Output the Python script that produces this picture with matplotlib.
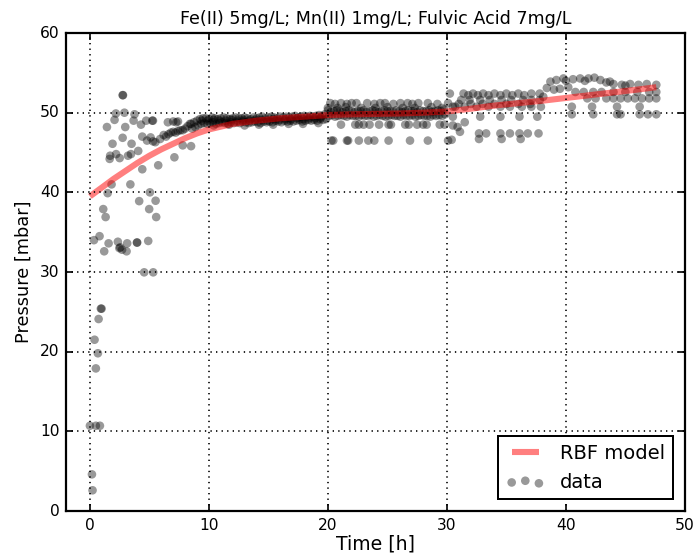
import matplotlib
matplotlib.use("Agg")
import matplotlib.pyplot as plt
import numpy as np

plt.style.use('classic')
plt.rcParams['font.family'] = ['DejaVu Sans']

title = "Fe(II) 5mg/L; Mn(II) 1mg/L; Fulvic Acid 7mg/L"
xlabel = "Time [h]"
ylabel = "Pressure [mbar]"

# ---- measured data (time [h], pressure [mbar]) ----
early = [
    [0.0, 10.7], [0.5, 10.7], [0.84, 10.7], [0.17, 4.6], [0.22, 2.6], [0.39, 21.5],
    [0.67, 19.8], [0.5, 17.9], [0.73, 24.1], [0.98, 25.4], [0.92, 25.4],
    [0.34, 34.0], [0.81, 34.5], [1.12, 37.9], [1.32, 36.9], [1.49, 39.9], [1.82, 41.0],
    [1.57, 33.6], [2.35, 33.8], [3.13, 33.6], [3.95, 33.7], [3.97, 33.7], [4.9, 33.9],
    [2.47, 33.0], [2.55, 33.1], [2.7, 32.8], [1.2, 32.6], [3.08, 32.6], [4.56, 29.96], [5.32, 29.96],
    [3.4, 41.0], [5.04, 40.0], [4.14, 38.9], [5.52, 38.95], [4.98, 37.9], [5.57, 36.9],
    [1.7, 44.6], [2.2, 44.8], [2.5, 44.3], [1.66, 44.2], [3.2, 44.6], [3.45, 44.8],
    [4.06, 45.2], [4.4, 42.9], [5.74, 43.4], [7.1, 44.4],
    [1.9, 46.1], [3.5, 46.1], [2.75, 46.85], [1.43, 48.2], [2.97, 48.2], [2.07, 49.1],
    [3.67, 49.0], [4.29, 48.5], [4.73, 49.0], [5.24, 49.0], [6.55, 48.8], [7.25, 48.8],
    [2.18, 49.9], [2.9, 50.0], [3.75, 49.8], [2.75, 52.2], [2.78, 52.2],
    [4.4, 47.0], [4.8, 46.5], [5.1, 46.9], [5.3, 46.4], [5.5, 46.3], [5.9, 46.7],
    [6.2, 47.2], [6.4, 47.0], [6.6, 47.3], [6.8, 47.5], [7.0, 47.6], [7.2, 47.5],
    [7.4, 47.7], [7.6, 47.8], [7.8, 47.8], [8.0, 48.0], [8.2, 48.3], [8.4, 48.6],
    [7.0, 48.9], [7.4, 48.9], [5.3, 49.0], [7.8, 45.9], [8.5, 45.8],
]

plateau = [
    [8.5, 48.6], [8.75, 48.8], [9.0, 49.0], [9.25, 49.2], [9.5, 49.3], [9.75, 49.3],
    [10.0, 49.2], [10.25, 49.4], [10.5, 49.3], [10.75, 49.2], [11.0, 49.3], [11.25, 49.4],
    [11.5, 49.3], [11.75, 49.2], [12.0, 49.3], [12.25, 49.4], [12.5, 49.3], [12.75, 49.3],
    [13.0, 49.4], [13.25, 49.3], [13.5, 49.2], [13.75, 49.4], [14.0, 49.3], [14.25, 49.4],
    [14.5, 49.5], [14.75, 49.3], [15.0, 49.4], [15.25, 49.5], [15.5, 49.4], [15.75, 49.3],
    [16.0, 49.5], [16.25, 49.4], [16.5, 49.5], [16.75, 49.4], [17.0, 49.5], [17.25, 49.6],
    [17.5, 49.4], [17.75, 49.5], [18.0, 49.6], [18.25, 49.5], [18.5, 49.6], [18.75, 49.5],
    [19.0, 49.6], [19.25, 49.7], [19.5, 49.6], [19.75, 49.8],
    [8.6, 48.0], [8.85, 48.2], [9.1, 48.4], [9.35, 48.6], [9.6, 48.7], [9.85, 48.6],
    [10.1, 48.7], [10.35, 48.8], [10.6, 48.6], [10.85, 48.7], [11.1, 48.8], [11.35, 48.7],
    [11.6, 48.6], [11.85, 48.8], [12.1, 48.7], [12.35, 48.8], [12.6, 48.7], [12.85, 48.9],
    [13.1, 48.8], [13.35, 48.7], [13.6, 48.8], [13.85, 48.9], [14.1, 48.8], [14.35, 48.7],
    [14.6, 48.9], [14.85, 48.8], [15.1, 48.9], [15.35, 48.8], [15.6, 49.0], [15.85, 48.9],
    [16.1, 48.8], [16.35, 49.0], [16.6, 48.9], [16.85, 49.0], [17.1, 48.9], [17.35, 49.0],
    [17.6, 49.1], [17.85, 48.9], [18.1, 49.0], [18.35, 49.1], [18.6, 49.0], [18.85, 49.1],
    [19.1, 49.0], [19.35, 49.2], [19.6, 49.1], [19.85, 49.2],
    [10.4, 48.4], [11.7, 48.5], [13.0, 48.4], [14.2, 48.5], [15.4, 48.5], [16.7, 48.6],
    [17.9, 48.6], [19.2, 48.7],
    [9.4, 49.0], [9.9, 49.0], [10.4, 49.1], [10.9, 49.0], [11.4, 49.0], [11.9, 49.1],
    [12.4, 49.0], [12.9, 49.1], [13.4, 49.0], [13.9, 49.1], [14.4, 49.1], [14.9, 49.0],
    [15.4, 49.2], [15.9, 49.1], [16.4, 49.2], [16.9, 49.2], [17.4, 49.3], [17.9, 49.2],
    [18.4, 49.3], [18.9, 49.3], [19.4, 49.4],
]

middle = [
    [20.0, 50.3], [20.25, 50.1], [20.5, 50.2], [20.75, 50.3], [21.0, 50.2], [21.25, 50.1],
    [21.5, 50.2], [21.75, 50.3], [22.0, 50.2], [22.25, 50.1], [22.5, 50.2], [22.75, 50.2],
    [23.0, 50.3], [23.25, 50.1], [23.5, 50.2], [23.75, 50.3], [24.0, 50.2], [24.25, 50.1],
    [24.5, 50.2], [24.75, 50.3], [25.0, 50.2], [25.25, 50.2], [25.5, 50.1], [25.75, 50.3],
    [26.0, 50.2], [26.25, 50.1], [26.5, 50.2], [26.75, 50.3], [27.0, 50.2], [27.25, 50.2],
    [27.5, 50.1], [27.75, 50.3], [28.0, 50.2], [28.25, 50.2], [28.5, 50.3], [28.75, 50.1],
    [29.0, 50.2], [29.25, 50.3], [29.5, 50.2], [29.75, 50.4],
    [20.1, 49.6], [20.35, 49.7], [20.6, 49.5], [20.85, 49.6], [21.1, 49.7], [21.35, 49.6],
    [21.6, 49.5], [21.85, 49.7], [22.1, 49.6], [22.35, 49.6], [22.6, 49.5], [22.85, 49.7],
    [23.1, 49.6], [23.35, 49.6], [23.6, 49.7], [23.85, 49.5], [24.1, 49.6], [24.35, 49.7],
    [24.6, 49.6], [24.85, 49.5], [25.1, 49.6], [25.35, 49.7], [25.6, 49.6], [25.85, 49.6],
    [26.1, 49.5], [26.35, 49.7], [26.6, 49.6], [26.85, 49.6], [27.1, 49.7], [27.35, 49.5],
    [27.6, 49.6], [27.85, 49.7], [28.1, 49.6], [28.35, 49.6], [28.6, 49.5], [28.85, 49.7],
    [29.1, 49.6], [29.35, 49.7], [29.6, 49.6], [29.85, 49.8],
    [20.2, 51.2], [20.6, 51.1], [21.1, 51.2], [21.6, 51.1], [22.0, 51.2], [22.4, 51.2],
    [23.3, 51.2], [23.9, 51.1], [24.4, 51.2], [24.8, 51.2], [25.5, 51.1], [26.1, 51.2],
    [26.7, 51.2], [27.1, 51.1], [27.6, 51.2], [28.4, 51.2], [29.2, 51.1], [30.1, 51.2],
    [20.0, 50.6], [20.8, 50.6], [21.5, 50.7], [22.8, 50.6], [24.0, 50.6], [25.0, 50.7],
    [26.3, 50.6], [27.3, 50.6], [28.7, 50.7], [29.6, 50.6],
    [21.1, 48.5], [22.3, 48.5], [22.6, 48.5], [23.0, 48.5], [23.5, 48.5], [24.3, 48.5],
    [25.1, 48.5], [25.3, 48.5], [26.5, 48.5], [26.8, 48.5], [27.5, 48.5], [28.0, 48.5],
    [28.3, 48.5], [29.4, 48.5], [29.8, 48.5],
    [20.3, 46.5], [20.45, 46.5], [21.6, 46.5], [21.7, 46.5], [22.6, 46.5], [23.4, 46.5],
    [23.9, 46.5], [25.1, 46.5], [26.9, 46.5], [28.4, 46.5], [30.1, 46.5],
]

late = [
    [30.25, 52.4], [31.4, 52.4], [32.2, 52.4], [33.05, 52.4], [34.0, 52.4], [35.0, 52.4],
    [36.0, 52.4], [37.1, 52.4], [37.8, 52.4], [31.8, 52.2], [32.6, 52.2], [33.5, 52.2],
    [34.5, 52.2], [35.5, 52.2], [36.5, 52.2],
    [31.2, 51.6], [31.9, 51.6], [32.8, 51.6], [33.6, 51.6], [34.6, 51.6], [35.4, 51.6],
    [36.4, 51.6], [37.1, 51.6], [37.8, 51.6],
    [31.0, 51.1], [32.0, 51.1], [33.0, 51.1], [34.0, 51.1], [35.0, 51.1], [36.0, 51.1], [37.0, 51.1],
    [30.5, 50.75], [30.7, 50.75], [31.5, 50.75], [32.5, 50.75], [33.5, 50.75], [34.5, 50.75],
    [35.3, 50.75], [36.3, 50.75], [37.1, 50.75], [37.9, 50.75],
    [30.5, 49.5], [32.8, 49.5], [34.5, 49.5], [36.1, 49.5], [37.6, 49.5],
    [32.7, 47.4], [33.3, 47.4], [34.5, 47.4], [35.3, 47.4], [36.1, 47.4], [36.8, 47.4],
    [37.7, 47.4], [31.1, 47.6],
    [32.7, 46.7], [34.6, 46.7], [36.2, 46.7], [30.4, 46.6],
    [30.5, 48.4], [30.9, 48.2], [31.5, 48.8],
    [38.1, 52.0], [38.4, 53.1], [38.7, 53.9], [39.0, 52.9], [39.2, 54.1], [39.8, 54.3],
    [39.5, 53.0], [40.2, 53.2],
    [40.0, 54.0], [40.6, 54.2], [41.2, 54.3], [41.6, 54.0], [41.9, 54.3], [42.4, 54.4],
    [42.9, 54.1], [43.4, 53.8], [43.7, 53.9], [44.0, 53.6], [44.7, 53.5], [45.0, 53.4],
    [45.4, 53.6], [46.1, 53.5], [46.8, 53.6], [47.6, 53.5],
    [40.8, 52.6], [41.5, 52.6], [42.3, 52.6], [43.0, 52.6], [44.0, 52.6], [45.0, 52.6],
    [46.0, 52.6], [47.0, 52.6], [47.6, 52.6],
    [41.8, 51.8], [42.5, 51.8], [43.4, 51.8], [44.0, 51.8], [44.6, 51.8], [45.2, 51.8],
    [45.8, 51.8], [46.4, 51.8], [47.0, 51.8], [47.6, 51.8],
    [40.5, 50.75], [42.2, 50.75], [44.3, 50.75], [46.2, 50.75],
    [40.5, 49.8], [42.3, 49.8], [44.3, 49.8], [44.6, 49.8], [46.2, 49.8], [46.9, 49.8], [47.6, 49.8],
]

# ---- RBF model curve ----
model_t = [0, 1, 2, 3, 4, 5, 6, 7, 8, 9, 10, 12, 14, 16, 18, 20, 22, 24, 26, 28,
           30, 32, 34, 36, 38, 40, 42, 44, 46, 47.6]
model_p = [39.5, 40.6, 41.7, 42.7, 43.7, 44.6, 45.4, 46.1, 46.8, 47.4, 47.9, 48.6,
           49.0, 49.3, 49.5, 49.7, 49.8, 49.85, 49.9, 50.0, 50.15, 50.5, 50.9, 51.2,
           51.5, 51.85, 52.2, 52.55, 52.9, 53.2]

data = np.array(early + plateau + middle + late)

fig = plt.figure(figsize=(8.7, 7), dpi=80, facecolor='white')
ax = fig.add_axes([0.095, 0.0875, 0.889, 0.8535])

ax.plot(model_t, model_p, color='red', lw=5.5, alpha=0.5, label='RBF model',
        solid_capstyle='butt')
ax.scatter(data[:, 0], data[:, 1], s=60, c='k', alpha=0.4, edgecolors='none', label='data')

ax.set_xlim(-2, 50)
ax.set_ylim(0, 60)
ax.set_xticks([0, 10, 20, 30, 40, 50])
ax.set_yticks([0, 10, 20, 30, 40, 50, 60])
ax.grid(True, linestyle=(0, (1.2, 3.8)), color='k', linewidth=1.5)
for sp in ax.spines.values():
    sp.set_linewidth(2)
ax.tick_params(width=1.5, length=6.5, labelsize=14, pad=6)

ax.set_title(title, fontsize=15.75, pad=8)
ax.set_xlabel(xlabel, fontsize=17, labelpad=2)
ax.set_ylabel(ylabel, fontsize=16, labelpad=6)

leg = ax.legend(loc='lower right', scatterpoints=3, fontsize=17.5, borderaxespad=0.6)
leg.get_frame().set_linewidth(1.8)
leg.get_frame().set_edgecolor('k')

fig.savefig('out.png', dpi=80, facecolor='white')
